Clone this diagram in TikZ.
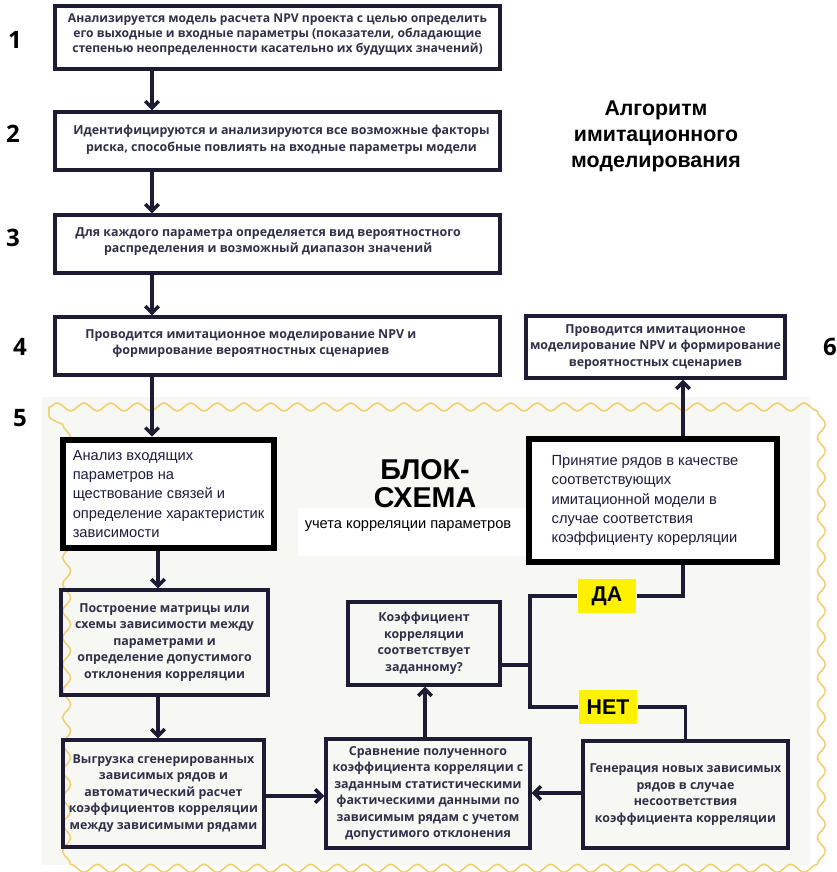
\documentclass[tikz,border=0pt]{standalone}
\usepackage{fontspec}
\setmainfont{Liberation Sans}
\newfontfamily\osfont{Open Sans}
\usetikzlibrary{arrows.meta,decorations.pathmorphing}
\definecolor{navy}{HTML}{1E1C35}
\definecolor{txtc}{HTML}{303048}
\definecolor{regc}{HTML}{1C1C3C}
\definecolor{wavec}{HTML}{F2CF72}
\definecolor{bgc}{HTML}{F7F7F3}
\definecolor{yel}{HTML}{FFF200}
\tikzset{
  box/.style={draw=navy, line width=2.6pt, inner sep=0pt},
  wbox/.style={box, fill=white},
  thickbox/.style={draw=black, line width=5pt, fill=white, inner sep=0pt},
  btxt/.style={font=\osfont\bfseries\fontsize{9.3}{12.4}\selectfont, text=txtc, align=center, inner sep=0pt},
  rtxt/.style={font=\fontsize{11}{14.4}\selectfont, text=regc, align=left, inner sep=0pt},
  arr/.style={draw=navy, line width=2.6pt, -{Straight Barb[length=5pt,width=10pt]}},
  ln/.style={draw=navy, line width=2.6pt},
  num/.style={font=\osfont\bfseries\fontsize{18}{18}\selectfont, text=black},
  yn/.style={fill=yel, font=\bfseries\fontsize{16}{16}\selectfont, text=black, minimum width=44pt, minimum height=25pt, inner sep=0pt},
}
\newcommand\mybox[8]{%
  \node[#6, minimum width={(#4-#2)*0.75pt}, minimum height={(#5-#3)*0.75pt}] (#1) at ({(#2+#4)/2},{(#3+#5)/2}) {};
  \node[#7] (#1t) at ({(#2+#4)/2},{(#3+#5)/2}) {#8};}
\begin{document}
\begin{tikzpicture}[x=0.75pt, y=-0.75pt]
\useasboundingbox (0,0) rectangle (837,872);
% background region
\fill[bgc] (42,397) rectangle (810,865);
\fill[white] (298,508) rectangle (528,556);
\draw[wavec, line width=1.2pt, decorate, decoration={snake, segment length=20pt, amplitude=3pt}] (49,407) -- (806,407) -- (806,861) -- (49,861) -- cycle;

% upper chain
\mybox{b1}{55}{6}{500}{69}{wbox}{btxt, font=\osfont\bfseries\fontsize{9.1}{11.4}\selectfont, yshift=2pt}{Анализируется модель расчета NPV проекта с целью определить\\его выходные и входные параметры (показатели, обладающие\\степенью неопределенности касательно их будущих значений)}
\mybox{b2}{55}{112}{500}{170}{wbox}{btxt, xshift=3pt, yshift=1pt}{Идентифицируются и анализируются все возможные факторы\\риска, способные повлиять на входные параметры модели}
\mybox{b3}{55}{215}{500}{273}{wbox}{btxt, xshift=-7pt, yshift=2pt}{Для каждого параметра определяется вид вероятностного\\распределения и возможный диапазон значений}
\mybox{b4}{55}{317}{500}{375}{wbox}{btxt, xshift=-20pt, yshift=2pt}{Проводится имитационное моделирование NPV и\\формирование вероятностных сценариев}
\mybox{b6}{526}{316}{785}{378}{wbox}{btxt}{Проводится имитационное\\моделирование NPV и формирование\\вероятностных сценариев}

% numbers
\node[num] (n1) at (15,40) {1};
\node[num] (n2) at (13,134) {2};
\node[num] (n3) at (13,238) {3};
\node[num] (n4) at (20,347) {4};
\node[num] (n5) at (20,418) {5};
\node[num] (n6) at (830,347) {6};

% title
\node[font=\bfseries\fontsize{16}{19.5}\selectfont, align=center] (title) at (656,136) {Алгоритм\\имитационного\\моделирования};

% block scheme heading
\node[font=\bfseries\fontsize{21.5}{21}\selectfont, align=center] (bs) at (425,484) {БЛОК-\\СХЕМА};
\node[font=\fontsize{11}{13}\selectfont] (bss) at (408,526) {учета корреляции параметров};

% lower boxes
\mybox{a1}{63}{440}{274}{548}{thickbox}{rtxt}{Анализ входящих\\параметров на\\ществование связей и\\определение характеристик\\зависимости}
\mybox{acc}{529}{439}{777}{562}{thickbox}{rtxt, xshift=-6pt}{Принятие рядов в качестве\\соответствующих\\имитационной модели в\\случае соответствия\\коэффициенту корерляции}
\mybox{p1}{61}{590}{268}{695}{box}{btxt}{Построение матрицы или\\схемы зависимости между\\параметрами и\\определение допустимого\\отклонения корреляции}
\mybox{v1}{63}{740}{264}{847}{box}{btxt}{Выгрузка сгенерированных\\зависимых рядов и\\автоматический расчет\\коэффициентов корреляции\\между зависимыми рядами}
\mybox{cmp}{326}{739}{530}{848}{box}{btxt}{Сравнение полученного\\коэффициента корреляции с\\заданным статистическими\\фактическими данными по\\зависимым рядам с учетом\\допустимого отклонения}
\mybox{gen}{583}{741}{788}{848}{box}{btxt}{Генерация новых зависимых\\рядов в случае\\несоответствия\\коэффициента корреляции}
\mybox{dec}{348}{602}{500}{685}{box}{btxt}{Коэффициент\\корреляции\\соответствует\\заданному?}

% helper columns / rows
\coordinate (cA) at (152,0);
\coordinate (cB) at (158,0);
\coordinate (cC) at (683,0);
\coordinate (cD) at (425,0);
\coordinate (rE) at (0,793);
\coordinate (rF) at (0,796);
\coordinate (jn) at (530,665);

% connectors
\draw[arr] (b1.south -| cA) -- (b2.north -| cA);
\draw[arr] (b2.south -| cA) -- (b3.north -| cA);
\draw[arr] (b3.south -| cA) -- (b4.north -| cA);
\draw[arr] (b4.south -| cA) -- (a1.north -| cA);
\draw[arr] (a1.south -| cB) -- (p1.north -| cB);
\draw[arr] (p1.south -| cB) -- (v1.north -| cB);
\draw[arr] (v1.east |- rF) -- (cmp.west |- rF);
\draw[arr] (gen.west |- rE) -- (cmp.east |- rE);
\draw[arr] (cmp.north -| cD) -- (dec.south -| cD);
\draw[arr] (acc.north -| cC) -- (b6.south -| cC);

\node[yn] (da) at (607,596) {ДА};
\node[yn] (net) at (608,707) {НЕТ};
\draw[ln] (dec.east |- jn) -- (jn);
\draw[ln] (jn) |- (da.west);
\draw[ln] (jn) |- (net.west);
\draw[ln] (da.east) -| (acc.south -| cC);
\draw[ln] (net.east) -| (gen.north);
\end{tikzpicture}
\end{document}
